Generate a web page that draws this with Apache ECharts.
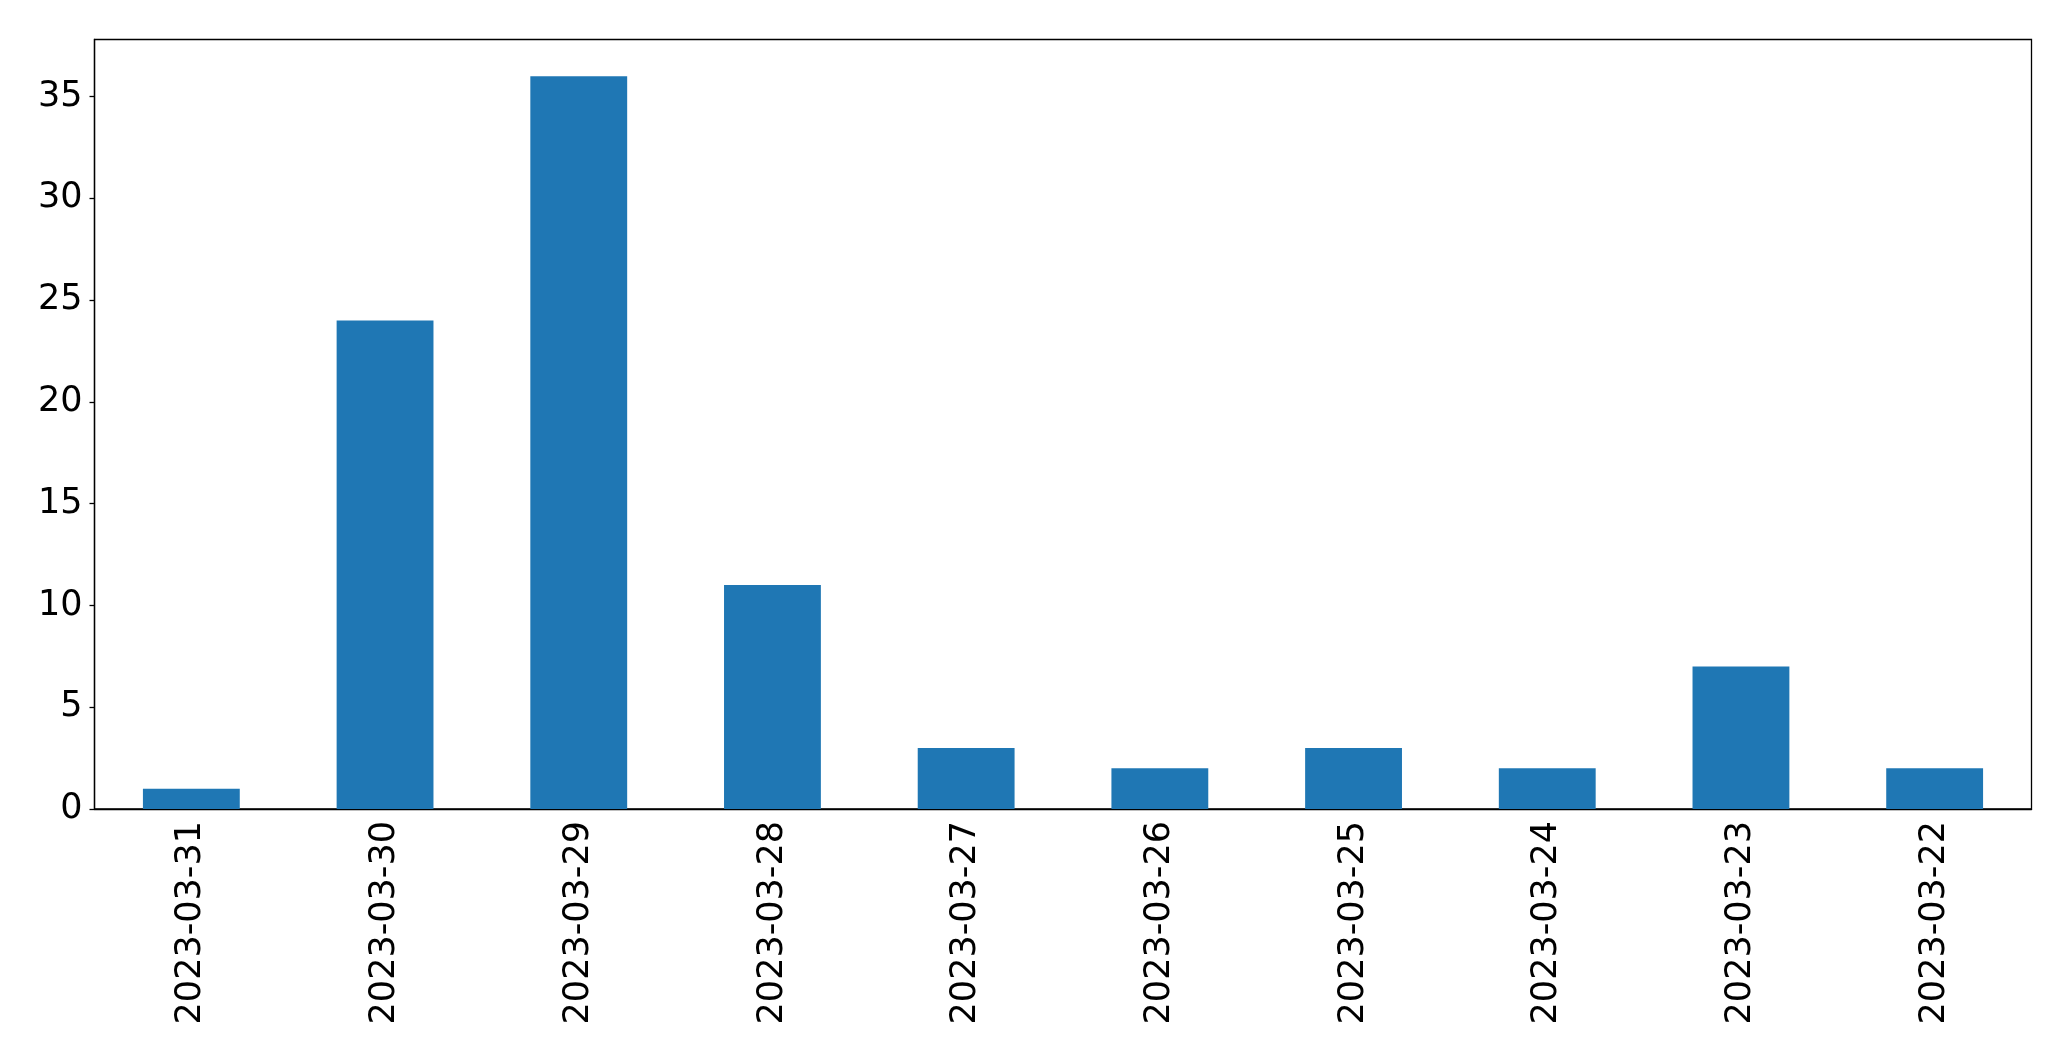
<!DOCTYPE html>
<html>
<head>
<meta charset="utf-8">
<script src="https://cdn.jsdelivr.net/npm/echarts@6/dist/echarts.min.js"></script>
<style>
html,body{margin:0;padding:0;background:#fff;}
#c{width:2071px;height:1061px;}
</style>
</head>
<body>
<div id="c"></div>
<script>
const categories = ["2023-03-31","2023-03-30","2023-03-29","2023-03-28","2023-03-27","2023-03-26","2023-03-25","2023-03-24","2023-03-23","2023-03-22"];
const values = [1, 24, 36, 11, 3, 2, 3, 2, 7, 2];
const yTicks = [0, 5, 10, 15, 20, 25, 30, 35];

const chart = echarts.init(document.getElementById('c'), null, {renderer: 'canvas'});
const font = 'DejaVu Sans';
chart.setOption({
  animation: false,
  backgroundColor: '#ffffff',
  grid: {
    left: 94.5, right: 39.5, top: 39.5, bottom: 252,
    show: true, borderColor: '#000', borderWidth: 1.3, backgroundColor: 'transparent'
  },
  xAxis: {
    type: 'category',
    data: categories,
    axisLine: {lineStyle: {color: '#000', width: 1.3}},
    axisTick: {alignWithLabel: true, length: 5, lineStyle: {color: '#000', width: 1.3}},
    axisLabel: {rotate: 90, color: '#000', fontFamily: font, fontSize: 35, margin: 12, interval: 0}
  },
  yAxis: {
    type: 'value',
    min: 0, max: 37.8, interval: 5,
    splitLine: {show: false},
    axisLine: {show: true, lineStyle: {color: '#000', width: 1.3}},
    axisTick: {show: true, length: 5, lineStyle: {color: '#000', width: 1.3}},
    axisLabel: {
      color: '#000', fontFamily: font, fontSize: 35, margin: 12,
      showMaxLabel: false,
      formatter: v => yTicks.includes(v) ? String(v) : ''
    }
  },
  series: [{
    type: 'bar',
    data: values,
    barWidth: '50%',
    itemStyle: {color: '#1f77b4'}
  }]
});
</script>
</body>
</html>
